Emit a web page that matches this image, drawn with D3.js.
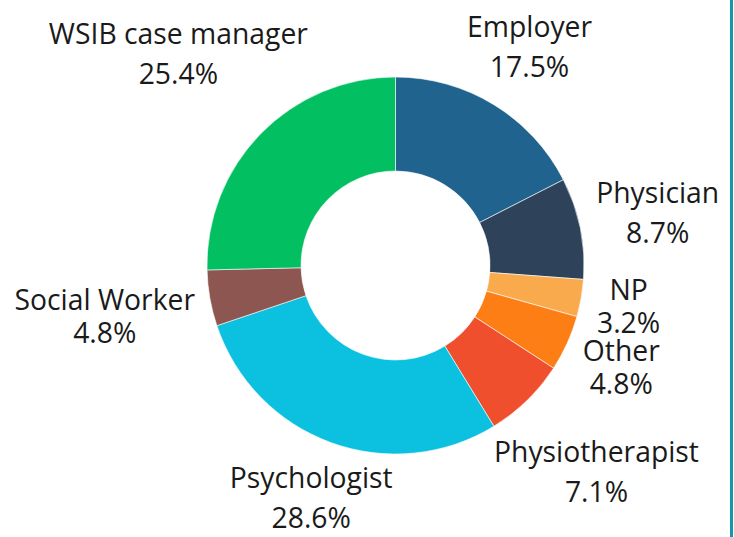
<!DOCTYPE html>
<html>
<head>
<meta charset="utf-8">
<script src="https://cdn.jsdelivr.net/npm/d3@7"></script>
<style>
  html, body { margin: 0; padding: 0; background: #fff; }
  svg { display: block; }
  text { font-family: "Open Sans", sans-serif; fill: #1a1a1a; }
</style>
</head>
<body>
<svg id="chart" width="734" height="537"></svg>
<script>
// slices, clockwise from 12 o'clock
const categories = ["Employer", "Physician", "NP", "Other", "Physiotherapist", "Psychologist", "Social Worker", "WSIB case manager"];
const shares = [17.5, 8.7, 3.2, 4.8, 7.1, 28.6, 4.8, 25.4];
const colours = ["#1f638e", "#2e4259", "#f9aa4c", "#fd7e14", "#f04f2e", "#0cc0df", "#8e5650", "#02bf62"];

const width = 734, height = 537;
const cx = 395.5, cy = 265.5;
const outerR = 188.5, innerR = 94.5;
const labelClear = 202;   // distance of the label box from the centre
const fontSize = 28.3;
const capH = fontSize * 0.714;

const svg = d3.select("#chart");

const data = categories.map((c, i) => ({ name: c, value: shares[i], colour: colours[i] }));

const pie = d3.pie().sort(null).value(d => d.value);
const arc = d3.arc().innerRadius(innerR).outerRadius(outerR);

const g = svg.append("g").attr("transform", `translate(${cx},${cy})`);

g.selectAll("path")
  .data(pie(data))
  .join("path")
  .attr("d", arc)
  .attr("fill", d => d.data.colour)
  .attr("stroke", "#fff")
  .attr("stroke-width", 0.6);

// labels: two lines, pushed out along the mid-angle until the box clears the ring
function boxDist(d, ux, uy, hw, hh) {
  const dx = Math.max(Math.abs(d * ux) - hw, 0);
  const dy = Math.max(Math.abs(d * uy) - hh, 0);
  return Math.hypot(dx, dy);
}

pie(data).forEach(p => {
  const mid = (p.startAngle + p.endAngle) / 2;
  const ux = Math.sin(mid), uy = -Math.cos(mid);
  const lineGap = p.data.value < 5 ? 33 : 40;

  const t = g.append("text")
    .attr("text-anchor", "middle")
    .style("font-size", fontSize + "px");
  const l1 = t.append("tspan").attr("x", 0).attr("y", 0).text(p.data.name);
  const l2 = t.append("tspan").attr("x", 0).attr("y", lineGap).text(p.data.value.toFixed(1) + "%");

  const w = Math.max(l1.node().getComputedTextLength(), l2.node().getComputedTextLength());
  const hw = w / 2;
  const hh = (capH + lineGap) / 2;

  let lo = 0, hi = 600;
  for (let k = 0; k < 60; k++) {
    const m = (lo + hi) / 2;
    if (boxDist(m, ux, uy, hw, hh) < labelClear) lo = m; else hi = m;
  }
  const px = lo * ux, py = lo * uy;
  const base1 = py - hh + capH;
  t.attr("transform", `translate(${px},${base1})`);
});

// right border rule
svg.append("line")
  .attr("x1", 731.5).attr("x2", 731.5)
  .attr("y1", 0).attr("y2", height)
  .attr("stroke", "#1397ab")
  .attr("stroke-width", 3);
</script>
</body>
</html>
